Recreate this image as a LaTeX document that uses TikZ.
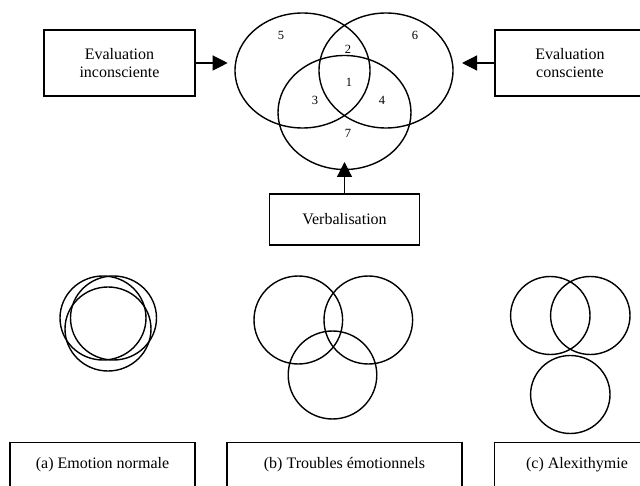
\documentclass[tikz,border=0pt]{standalone}
\usepackage{fontspec}
\setmainfont{Liberation Serif}
\usetikzlibrary{arrows.meta}
\usetikzlibrary{positioning}

\tikzset{
  boxnode/.style={draw, line width=1.2pt, align=center, inner sep=0pt,
    font=\fontsize{16}{17.5}\selectfont},
  ring/.style={line width=1.4pt},
  zonelabel/.style={font=\fontsize{12.5}{14}\selectfont, inner sep=0pt},
  feed/.style={line width=1.2pt, -{Triangle[length=15pt,width=15pt]}},
}

\begin{document}
\begin{tikzpicture}[x=1pt, y=-1pt]
        \useasboundingbox (0,0) rectangle (640,486);
        \clip (0,0) rectangle (640,486);

        % three-circle model
        \begin{scope}
            \draw[ring] (302.5,70.5) ellipse (67.5 and 57.5);
            \draw[ring] (386,70.5) ellipse (67 and 57.5);
            \draw[ring] (344.5,112.5) ellipse (66.5 and 57);

            \foreach \n/\px/\py in {5/281/35, 6/415/35, 2/348/49, 1/349/82,
                                    3/315/100, 4/382/100, 7/348/133} {
                \node[zonelabel] (zone\n) at (\px,\py) {\n};
            }
        \end{scope}

        % inputs
        \node[boxnode, minimum width=151pt, minimum height=66pt] (inconsc) at (119.5,63) {Evaluation\\inconsciente};
        \node[boxnode, minimum width=150pt, minimum height=66pt] (consc) at (570,63) {Evaluation\\consciente};
        \node[boxnode, minimum width=150pt, minimum height=51pt] (verbal) at (344.5,219.5) {Verbalisation};

        \coordinate (tipL) at (227.7,63);
        \coordinate (tipR) at (462,63);
        \coordinate (tipB) at (344.5,162);
        \draw[feed] (inconsc.east) -- (tipL);
        \draw[feed] (consc.west) -- (tipR);
        \draw[feed] (verbal.north) -- (tipB);

        % (a) emotion normale
        \foreach \cx/\cy in {103/318, 113.5/318, 108/329} {
            \draw[ring] (\cx,\cy) ellipse (43 and 42);
        }
        % (b) troubles
        \foreach \cx/\cy in {298.3/320, 368.3/320, 332.5/375} {
            \draw[ring] (\cx,\cy) ellipse (44.3 and 44);
        }
        % (c) alexithymie
        \foreach \cx/\cy in {550.3/315.5, 590.3/315.5, 570.3/394.5} {
            \draw[ring] (\cx,\cy) ellipse (39.7 and 39);
        }

        \node[boxnode, minimum width=185pt, minimum height=45pt] (casA) at (102.5,465) {(a) Emotion normale};
        \node[boxnode, minimum width=235pt, minimum height=45pt] (casB) at (344.5,465) {(b) Troubles émotionnels};
        \node[boxnode, minimum width=165pt, minimum height=45pt] (casC) at (577,465) {(c) Alexithymie};

\end{tikzpicture}
\end{document}
